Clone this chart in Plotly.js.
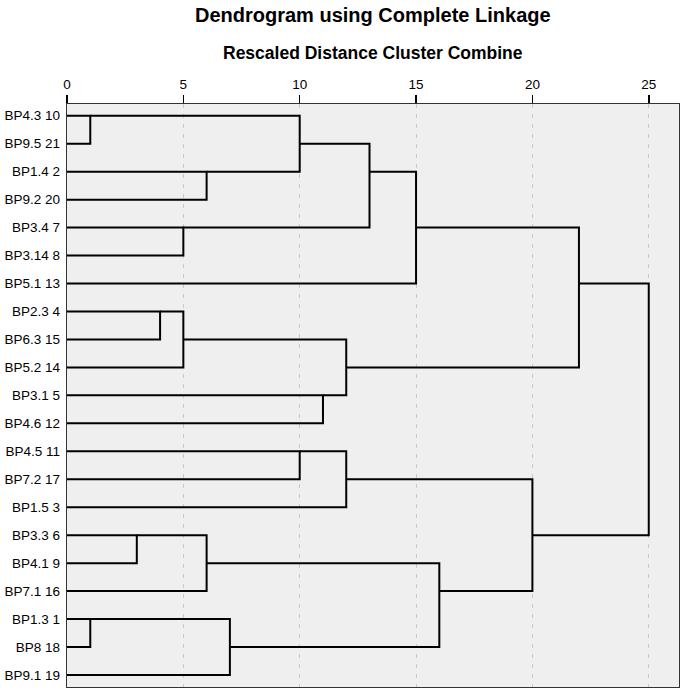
<!DOCTYPE html>
<html>
<head>
<meta charset="utf-8">
<script src="https://cdn.plot.ly/plotly-3.0.1.min.js"></script>
<style>html,body{margin:0;padding:0;background:#fff;}#chart{width:680px;height:691px;}</style>
</head>
<body>
<div id="chart"></div>
<script>
// Leaf labels in display order (top to bottom)
const leafLabels = ["BP4.3 10","BP9.5 21","BP1.4 2","BP9.2 20","BP3.4 7","BP3.14 8","BP5.1 13",
  "BP2.3 4","BP6.3 15","BP5.2 14","BP3.1 5","BP4.6 12","BP4.5 11","BP7.2 17","BP1.5 3",
  "BP3.3 6","BP4.1 9","BP7.1 16","BP1.3 1","BP8 18","BP9.1 19"];

// Merge steps: ids < 21 are leaves (row index), id 21+k is the cluster made by merge k
const mergeLeft  = [0, 2, 21, 4, 23, 25, 7, 27, 10, 28, 26, 12, 32, 15, 34, 18, 36, 35, 33, 31];
const mergeRight = [1, 3, 22, 5, 24, 6, 8, 9, 11, 29, 30, 13, 14, 16, 17, 19, 20, 37, 38, 39];
const mergeDist  = [1, 6, 10, 5, 13, 15, 4, 5, 11, 12, 22, 10, 12, 3, 6, 1, 7, 16, 20, 25];

const xTicks = [0, 5, 10, 15, 20, 25];

const nLeaf = leafLabels.length;
const nodeX = [], nodeY = [];
for (let i = 0; i < nLeaf; i++) { nodeX.push(0); nodeY.push(i); }
const lx = [], ly = [];
for (let k = 0; k < mergeDist.length; k++) {
  const a = mergeLeft[k], b = mergeRight[k], d = mergeDist[k];
  lx.push(nodeX[a], d, d, nodeX[b], null);
  ly.push(nodeY[a], nodeY[a], nodeY[b], nodeY[b], null);
  nodeX.push(d);
  nodeY.push(Math.floor((nodeY[a] + nodeY[b]) / 2));
}

const FONT = "Liberation Sans, Arial, sans-serif";
const trace = {
  type: "scatter", mode: "lines", x: lx, y: ly,
  line: {color: "#000", width: 2, shape: "linear"},
  connectgaps: false, hoverinfo: "skip", showlegend: false, cliponaxis: false
};

const layout = {
  width: 680, height: 691,
  margin: {l: 67, r: 1, t: 104, b: 4, pad: 0},
  paper_bgcolor: "#fff", plot_bgcolor: "#efefef",
  font: {family: FONT, color: "#000", size: 13},
  showlegend: false,
  xaxis: {
    side: "top", range: [0, 26.3], tickvals: xTicks, ticktext: xTicks.map(String),
    ticks: "outside", ticklen: 8, tickwidth: 1.5, tickcolor: "#000",
    tickfont: {size: 13.5, family: FONT, color: "#000"},
    showgrid: true, gridcolor: "#c8c8c8", gridwidth: 1, griddash: "4px,6px",
    showline: true, mirror: true, linecolor: "#333", linewidth: 1.3,
    zeroline: false, fixedrange: true
  },
  yaxis: {
    range: [20.43, -0.42], tickvals: leafLabels.map((_, i) => i), ticktext: leafLabels,
    ticks: "", ticklabelstandoff: 3,
    tickfont: {size: 13.5, family: FONT, color: "#000"},
    showgrid: false, zeroline: false,
    showline: true, mirror: true, linecolor: "#333", linewidth: 1.3, fixedrange: true
  },
  annotations: [
    {text: "<b>Dendrogram using Complete Linkage</b>", xref: "paper", yref: "paper",
     x: 0.5, y: 1, xanchor: "center", yanchor: "middle", yshift: 104 - 15, showarrow: false,
     font: {size: 20, family: FONT, color: "#000"}},
    {text: "<b>Rescaled Distance Cluster Combine</b>", xref: "paper", yref: "paper",
     x: 0.5, y: 1, xanchor: "center", yanchor: "middle", yshift: 104 - 52.5, showarrow: false,
     font: {size: 17.5, family: FONT, color: "#000"}}
  ]
};

Plotly.newPlot("chart", [trace], layout, {staticPlot: true, displayModeBar: false});
</script>
</body>
</html>
